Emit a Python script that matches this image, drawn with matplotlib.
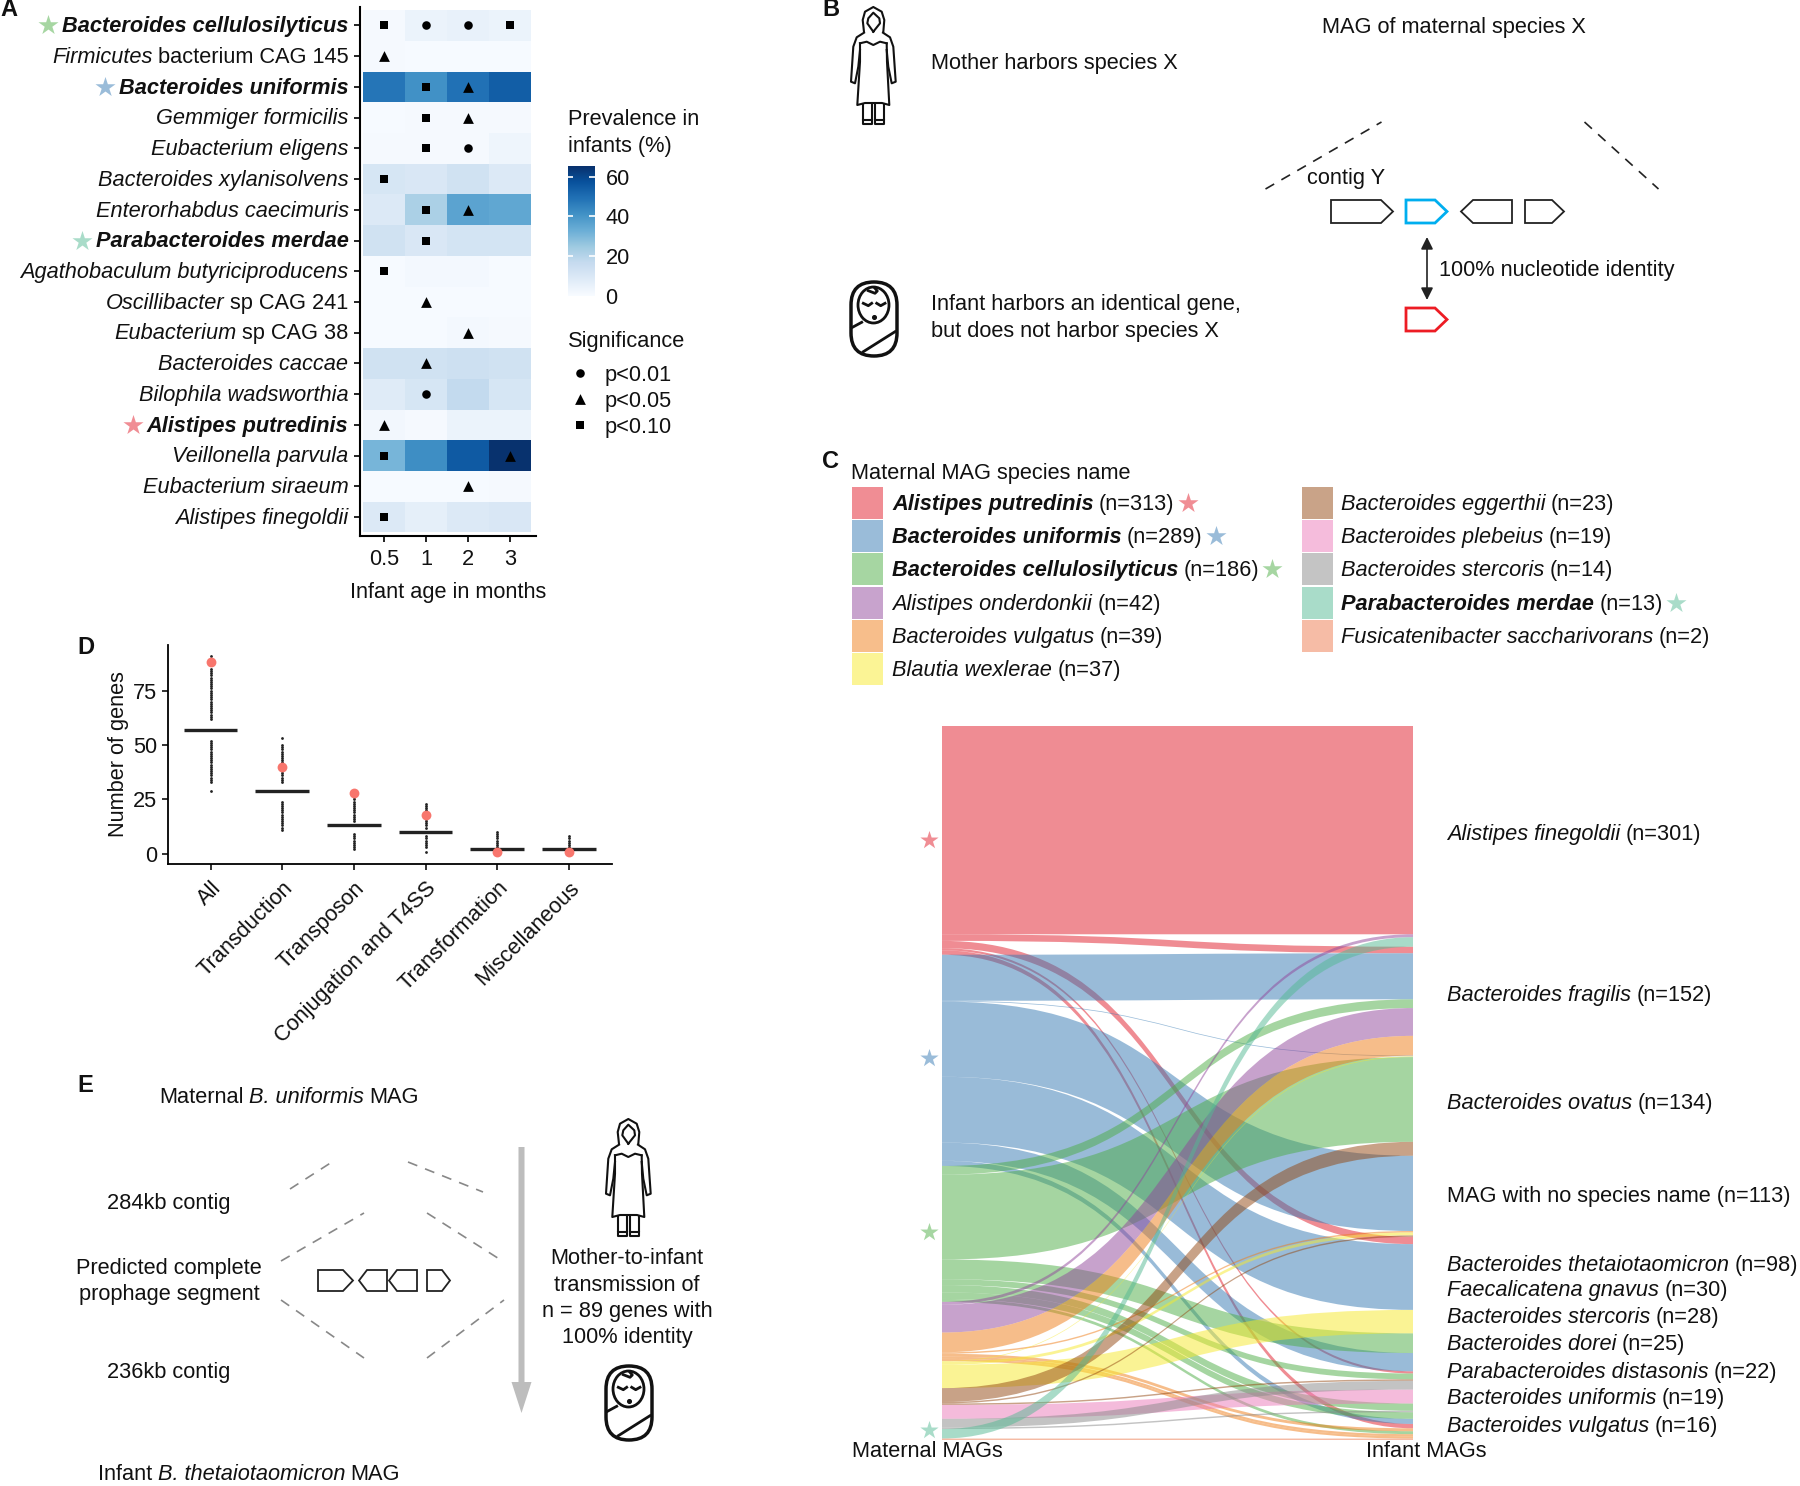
import matplotlib
matplotlib.use('Agg')
import matplotlib.pyplot as plt
from matplotlib.path import Path
from matplotlib.patches import PathPatch, Polygon, Rectangle, Ellipse, FancyBboxPatch

plt.rcParams['font.family'] = ['Liberation Sans', 'DejaVu Sans']
FS = 15.7
W, H = 1800, 1486

# panel A
species_a = ['Bacteroides cellulosilyticus', 'Firmicutes bacterium CAG 145', 'Bacteroides uniformis',
             'Gemmiger formicilis', 'Eubacterium eligens', 'Bacteroides xylanisolvens',
             'Enterorhabdus caecimuris', 'Parabacteroides merdae', 'Agathobaculum butyriciproducens',
             'Oscillibacter sp CAG 241', 'Eubacterium sp CAG 38', 'Bacteroides caccae',
             'Bilophila wadsworthia', 'Alistipes putredinis', 'Veillonella parvula',
             'Eubacterium siraeum', 'Alistipes finegoldii']
ages = ['0.5', '1', '2', '3']
prevalence = [[1, 4, 5, 4], [1, 0.5, 0.5, 0.5], [48, 41, 49, 54], [0.5, 1, 1, 1], [1, 1, 1, 3],
              [11, 10, 13, 9], [9, 22, 36, 35], [13, 10, 12, 12], [0.5, 1.5, 1.5, 0.5],
              [0.5, 0.5, 0.5, 0.5], [0.5, 0.5, 1.5, 1], [13, 13, 14, 13], [8, 11, 17, 11],
              [2, 1, 4, 4], [31, 42, 55, 65], [0.5, 0.5, 0.5, 1], [9, 6, 9, 10]]
signif = ['soos', '^...', '.s^.', '.s^.', '.so.', 's...', '.s^.', '.s..', 's...',
          '.^..', '..^.', '.^..', '.o..', '^...', 's..^', '..^.', 's...']
bold_a = {'Bacteroides cellulosilyticus': 'green', 'Bacteroides uniformis': 'blue',
          'Parabacteroides merdae': 'teal', 'Alistipes putredinis': 'red'}
mixed_a = {'Firmicutes bacterium CAG 145': ('Firmicutes', 'bacterium CAG 145'),
           'Oscillibacter sp CAG 241': ('Oscillibacter', 'sp CAG 241'),
           'Eubacterium sp CAG 38': ('Eubacterium', 'sp CAG 38')}

# panel C legend
c_col1 = [('Alistipes putredinis', 313, 'red', True), ('Bacteroides uniformis', 289, 'blue', True),
          ('Bacteroides cellulosilyticus', 186, 'green', True), ('Alistipes onderdonkii', 42, 'purple', False),
          ('Bacteroides vulgatus', 39, 'orange', False), ('Blautia wexlerae', 37, 'yellow', False)]
c_col2 = [('Bacteroides eggerthii', 23, 'brown', False), ('Bacteroides plebeius', 19, 'pink', False),
          ('Bacteroides stercoris', 14, 'grey', False), ('Parabacteroides merdae', 13, 'teal', True),
          ('Fusicatenibacter saccharivorans', 2, 'salmon', False)]
base_colors = {'red': '#E11B29', 'blue': '#3579B3', 'green': '#4DAD45', 'purple': '#91479B',
               'orange': '#EF7D17', 'yellow': '#F7E92B', 'brown': '#934711', 'pink': '#EB79B9',
               'grey': '#898989', 'teal': '#53B993', 'salmon': '#ED794D'}
light_colors = {'red': '#F08D94', 'blue': '#9ABCD9', 'green': '#A6D6A2', 'purple': '#C8A3CD',
                'orange': '#F7BE8B', 'yellow': '#FBF495', 'brown': '#C9A388', 'pink': '#F5BCDC',
                'grey': '#C4C4C4', 'teal': '#A9DCC9', 'salmon': '#F6BCA6'}

# alluvial flows, left stack order
flow_ids = ['r1', 'r2', 'r3', 'r4', 'r5', 'b1', 'b2', 'b3', 'b4', 'b5', 'b6',
            'g1', 'g2', 'g3', 'g4', 'g5', 'g6', 'g7', 'p1', 'p2', 'o1', 'o2', 'o3', 'o4', 'o5',
            'y1', 'y2', 'y3', 'br1', 'br2', 'br3', 'pk', 'gr1', 'gr2', 't1', 's1']
flow_n = [285, 9, 10, 3, 6, 63, 1, 103, 90, 25, 7,
          12, 116, 27, 8, 10, 9, 4, 4, 38, 27, 2, 4, 3, 3,
          1, 4, 32, 19, 2, 2, 19, 12, 2, 13, 2]
flow_species = ['red'] * 5 + ['blue'] * 6 + ['green'] * 7 + ['purple'] * 2 + ['orange'] * 5 + \
    ['yellow'] * 3 + ['brown'] * 3 + ['pink'] + ['grey'] * 2 + ['teal'] + ['salmon']
right_order = ['r1', 'p1', 't1', 'r2', 'b1', 'g1', 'p2', 'o1', 'b2', 'y1', 'g2', 'br1', 'b3', 'o2', 'y2', 'br2',
               'r3', 'b4', 'y3', 'g3', 'b5', 'r4', 'g4', 'br3', 'gr1', 'pk', 'g5', 'gr2', 'g6', 'b6', 'r5',
               'o3', 'g7', 'o4', 'o5', 's1']
infant_labels = [('Alistipes finegoldii', ' (n=301)', 833), ('Bacteroides fragilis', ' (n=152)', 994),
                 ('Bacteroides ovatus', ' (n=134)', 1102), ('', 'MAG with no species name (n=113)', 1195),
                 ('Bacteroides thetaiotaomicron', ' (n=98)', 1264), ('Faecalicatena gnavus', ' (n=30)', 1289),
                 ('Bacteroides stercoris', ' (n=28)', 1316), ('Bacteroides dorei', ' (n=25)', 1343),
                 ('Parabacteroides distasonis', ' (n=22)', 1371), ('Bacteroides uniformis', ' (n=19)', 1397),
                 ('Bacteroides vulgatus', ' (n=16)', 1425)]

# panel D
categories = ['All', 'Transduction', 'Transposon', 'Conjugation and T4SS', 'Transformation', 'Miscellaneous']
observed = [88, 40, 28, 18, 1, 1]
null_median = [57, 29, 13, 10, 2, 2]
null_values = [
    [29, 33, 34, 35, 36, 37, 38, 39, 40, 41, 42, 43, 44, 45, 46, 47, 48, 49, 50, 51, 52,
     62, 63, 64, 65, 66, 67, 68, 69, 70, 71, 72, 73, 74, 75, 76, 77, 78, 79, 80, 81, 82, 83, 84, 85, 91],
    [11, 12, 13, 14, 15, 16, 17, 18, 19, 20, 21, 22, 23, 24, 33, 34, 35, 36, 37, 38, 39, 41, 42, 43, 44, 45, 46,
     47, 48, 49, 50, 53],
    [2, 3, 4, 5, 6, 7, 8, 9, 15, 16, 17, 18, 19, 20, 21, 22, 23, 24, 25, 26],
    [1, 3, 4, 5, 6, 7, 8, 12, 13, 14, 15, 16, 17, 19, 20, 21, 22, 23],
    [3, 4, 5, 6, 7, 8, 9, 10],
    [3, 4, 5, 6, 7, 8],
]

fig = plt.figure(figsize=(W / 100, H / 100), dpi=100)
renderer = fig.canvas.get_renderer()


def px_axes(left, top, right, bottom, **kw):
    return fig.add_axes([left / W, 1 - bottom / H, (right - left) / W, (bottom - top) / H], **kw)


ov = px_axes(0, 0, W, H, zorder=5)
ov.set_xlim(0, W)
ov.set_ylim(H, 0)
ov.axis('off')
ov.patch.set_alpha(0)


def rich(x, y, parts, size=FS, ha='left'):
    # parts: (text, style, weight), y is the middle of the x-height line
    px = size * 100 / 72
    gap = 0.25 * px
    items = []
    for s, style, weight in parts:
        t = ov.text(0, y + 0.31 * px, s, fontsize=size, style=style, weight=weight, va='baseline', ha='left',
                    color='#111111')
        items.append((t, t.get_window_extent(renderer).width))
    total = sum(i[1] for i in items) + gap * (len(items) - 1)
    left = x
    if ha == 'right':
        left = x - total
    elif ha == 'center':
        left = x - total / 2
    cur = left
    for t, w in items:
        t.set_x(cur)
        cur += w + gap
    return left, left + total


def plain(x, y, s, ha='left', size=FS):
    return rich(x, y, [(s, 'normal', 'normal')], size=size, ha=ha)


def gene(x0, x1, y0, y1, right=True, color='#222222', lw=1.3, tip=12):
    ym = (y0 + y1) / 2
    if right:
        pts = [(x0, y0), (x1 - tip, y0), (x1, ym), (x1 - tip, y1), (x0, y1)]
    else:
        pts = [(x1, y0), (x0 + tip, y0), (x0, ym), (x0 + tip, y1), (x1, y1)]
    ov.add_patch(Polygon(pts, closed=True, fill=False, edgecolor=color, lw=lw, joinstyle='miter'))


def dash(x0, y0, x1, y1, color='#222222', lw=1.2):
    ov.plot([x0, x1], [y0, y1], color=color, lw=lw, dashes=(6, 5))


def mother(x, y):
    c = '#111111'
    lines = [
        [(13, 25), (11.7, 13), (14, 4.7), (22.3, 0), (30.7, 4.7), (33.3, 13), (32.3, 25)],
        [(22.3, 24.7), (16.3, 16.3), (17.3, 11.3), (22.3, 5.7), (28.3, 11.3), (29, 16.3), (22.3, 24.7)],
        [(13, 25.7), (5.7, 30.3), (2.3, 39.7), (0, 74.7), (4, 76.3), (7.3, 59.7), (9, 43)],
        [(32, 25.7), (39, 30.3), (42.3, 39.7), (44.7, 74.7), (40.7, 76.3), (37.3, 59.7), (35.7, 43)],
        [(9, 36.3), (15.7, 34.7), (22.3, 38), (29, 34.7), (35.7, 36.3)],
        [(9, 36.3), (9, 54.7), (6.3, 98), (14, 96), (31, 96), (38.3, 98), (36, 54.7), (35.7, 36.3)],
        [(12.3, 98), (12.3, 113), (21.3, 113), (21.3, 98)],
        [(24, 98), (24, 113), (33.3, 113), (33.3, 98)],
        [(12.3, 113), (12.3, 117), (21.3, 117), (21.3, 113)],
        [(24, 113), (24, 117), (33.3, 117), (33.3, 113)],
    ]
    for ln in lines:
        ov.plot([x + p[0] for p in ln], [y + p[1] for p in ln], color=c, lw=1.5, solid_joinstyle='round')


def baby(x, y):
    c = '#111111'
    ov.add_patch(FancyBboxPatch((x, y), 46, 74, boxstyle='round,pad=0,rounding_size=23', fill=False, edgecolor=c, lw=2.5))
    ov.add_patch(Ellipse((x + 22.5, y + 23), 31, 36, fill=False, edgecolor=c, lw=2))
    for ln in [[(0.7, 45.7), (10.7, 40.3)], [(12.3, 69.7), (44, 49.7)]]:
        ov.plot([x + p[0] for p in ln], [y + p[1] for p in ln], color=c, lw=2)
    for ln in [[(12.3, 21.3), (17.3, 23.7), (20.7, 21.3)], [(25.7, 21.3), (29.7, 23.7), (34, 21.3)],
               [(17.3, 8.7), (24, 11.3), (26.3, 9), (24, 6.3)]]:
        ov.plot([x + p[0] for p in ln], [y + p[1] for p in ln], color=c, lw=2)
    ov.scatter([x + 22.5], [y + 34.7], s=7, color=c)


def star(x, y, name, s=230):
    ov.scatter([x], [y], marker='*', s=s, color=light_colors[name], linewidths=0, zorder=3)


for lab, x, y in [('A', 0, 10), ('B', 822, 10), ('C', 822, 461), ('D', 77, 648), ('E', 77, 1086)]:
    ov.text(x, y, lab, fontsize=17, weight='bold', va='center', ha='left', color='#111111')

# --- A heatmap
axa = px_axes(360, 7, 535.5, 535.5, zorder=2)
mesh = axa.pcolormesh(range(5), range(18), prevalence, cmap='Blues', vmin=0, vmax=65.6, shading='flat',
                      edgecolors='none')
axa.set_xlim(0 - 0.07, 4.107)
axa.set_ylim(17.1, -0.1)
axa.set_xticks([i + 0.5 for i in range(4)])
axa.set_xticklabels(ages, fontsize=FS)
axa.set_yticks([i + 0.5 for i in range(17)])
axa.set_yticklabels([])
axa.tick_params(axis='x', length=4, width=1.3, pad=6, colors='#111111')
axa.tick_params(axis='y', length=4, width=1.3, colors='#111111')
axa.set_xlabel('Infant age in months', fontsize=FS, labelpad=8, color='#111111')
for sp in ['top', 'right']:
    axa.spines[sp].set_visible(False)
for sp in ['left', 'bottom']:
    axa.spines[sp].set_linewidth(1.5)

for i, row in enumerate(signif):
    for j, m in enumerate(row):
        if m != '.':
            axa.scatter([j + 0.5], [i + 0.5], marker=m, s=60 if m == '^' else 38, color='black', linewidths=0, zorder=3)

for i, name in enumerate(species_a):
    y = axa.transData.transform((0, i + 0.5))[1]
    y = H - y
    if name in bold_a:
        left, _ = rich(348.5, y, [(name, 'italic', 'bold')], ha='right')
        star(left - 14, y, bold_a[name])
    elif name in mixed_a:
        a, b = mixed_a[name]
        rich(348.5, y, [(a, 'italic', 'normal'), (b, 'normal', 'normal')], ha='right')
    else:
        rich(348.5, y, [(name, 'italic', 'normal')], ha='right')

plain(568, 118, 'Prevalence in')
plain(568, 145, 'infants (%)')
cax = px_axes(568, 165.5, 594.5, 295.5, zorder=2)
cb = fig.colorbar(mesh, cax=cax)
cb.outline.set_visible(False)
cb.set_ticks([0, 20, 40, 60])
cb.ax.tick_params(length=0, pad=8, labelsize=FS, colors='#111111')
cax.hlines([20, 40, 60], 0, 0.2, color='white', lw=1.2)
cax.hlines([20, 40, 60], 0.8, 1, color='white', lw=1.2)
plain(568, 340, 'Significance')
for lab, m, y in [('p<0.01', 'o', 374), ('p<0.05', '^', 400), ('p<0.10', 's', 426)]:
    ov.scatter([580], [y - 1], marker=m, s=60 if m == '^' else 38, color='black', linewidths=0)
    plain(605, y, lab)

# --- B schematic
mother(851, 7)
baby(851, 282)
plain(1322, 26, 'MAG of maternal species X')
plain(931, 62, 'Mother harbors species X')
plain(931, 303, 'Infant harbors an identical gene,')
plain(931, 330, 'but does not harbor species X')
plain(1307, 177, 'contig Y')
plain(1439, 269, '100% nucleotide identity')
dash(1265.5, 189, 1381.5, 122)
dash(1584.5, 122, 1658.5, 189)
gene(1331, 1393, 200, 223)
gene(1406, 1447, 200, 223, color='#00AEEF', lw=2)
gene(1461, 1512, 200, 223, right=False)
gene(1525, 1564, 200, 223)
gene(1406, 1447, 308, 331, color='#ED1C24', lw=2)
ov.annotate('', xy=(1427, 237), xytext=(1427, 300), arrowprops=dict(arrowstyle='<|-|>', color='#222222', lw=1.2,
                                                                     mutation_scale=18, shrinkA=0, shrinkB=0))

# --- C legend
plain(851, 472, 'Maternal MAG species name')
rows_y = [503, 536, 569, 603, 636, 669]
for col, (x_sq, x_tx) in zip([c_col1, c_col2], [(852, 892), (1302, 1341)]):
    for (name, n, colr, bold), y in zip(col, rows_y):
        ov.add_patch(Rectangle((x_sq, y - 16), 31, 32, facecolor=light_colors[colr], edgecolor='none'))
        _, right = rich(x_tx, y, [(name, 'italic', 'bold' if bold else 'normal'), (f'(n={n})', 'normal', 'normal')])
        if bold:
            star(right + 13, y, colr)

# --- alluvial
axs = px_axes(942, 726, 1413, 1440, zorder=1)
total = sum(flow_n)
axs.set_xlim(0, 1)
axs.set_ylim(total, 0)
axs.axis('off')
tops_left = {}
cum = 0
for fid, n in zip(flow_ids, flow_n):
    tops_left[fid] = cum
    cum += n
tops_right = {}
cum = 0
n_of = dict(zip(flow_ids, flow_n))
for fid in right_order:
    tops_right[fid] = cum
    cum += n_of[fid]
for fid, n, sp in zip(flow_ids, flow_n, flow_species):
    a0, b0 = tops_left[fid], tops_right[fid]
    a1, b1 = a0 + n, b0 + n
    verts = [(0, a0), (0.55, a0), (0.45, b0), (1, b0), (1, b1), (0.45, b1), (0.55, a1), (0, a1), (0, a0)]
    codes = [Path.MOVETO, Path.CURVE4, Path.CURVE4, Path.CURVE4, Path.LINETO, Path.CURVE4, Path.CURVE4, Path.CURVE4,
             Path.CLOSEPOLY]
    axs.add_patch(PathPatch(Path(verts, codes), facecolor=base_colors[sp], edgecolor='none', alpha=0.5, lw=0))

for x, y, c in [(929, 840, 'red'), (929, 1058, 'blue'), (929, 1232, 'green'), (929, 1430, 'teal')]:
    star(x, y, c, s=190)
for name, tail, y in infant_labels:
    if name:
        rich(1447, y, [(name, 'italic', 'normal'), (tail.strip(), 'normal', 'normal')])
    else:
        plain(1447, y, tail)
plain(852, 1450, 'Maternal MAGs')
plain(1366, 1450, 'Infant MAGs')

# --- D strip plot
axd = px_axes(167.5, 645, 612, 863.7, zorder=2)
for i, vals in enumerate(null_values):
    axd.scatter([i] * len(vals), vals, s=4, color='#222222', linewidths=0, zorder=2)
axd.hlines(null_median, [i - 0.375 for i in range(6)], [i + 0.375 for i in range(6)], color='#222222', lw=2.4, zorder=3)
axd.scatter(range(6), observed, s=50, color='#F8766D', linewidths=0, zorder=4)
axd.set_xlim(-0.6, 5.6)
axd.set_ylim(-4.6, 96)
axd.set_yticks([0, 25, 50, 75])
axd.set_xticks(range(6))
axd.set_xticklabels(categories, rotation=45, ha='right', rotation_mode='anchor', fontsize=FS)
axd.tick_params(axis='y', labelsize=FS, length=4, width=1.2, colors='#111111')
axd.tick_params(axis='x', length=4, width=1.2, pad=6, colors='#111111')
axd.set_ylabel('Number of genes', fontsize=FS, labelpad=3, color='#111111')
for sp in ['top', 'right']:
    axd.spines[sp].set_visible(False)
for sp in ['left', 'bottom']:
    axd.spines[sp].set_linewidth(1.3)

# --- E schematic
rich(159, 1096, [('Maternal', 'normal', 'normal'), ('B. uniformis', 'italic', 'normal'), ('MAG', 'normal', 'normal')])
rich(98, 1473, [('Infant', 'normal', 'normal'), ('B. thetaiotaomicron', 'italic', 'normal'), ('MAG', 'normal', 'normal')])
plain(169, 1202, '284kb contig', ha='center')
plain(169, 1267, 'Predicted complete', ha='center')
plain(169, 1293, 'prophage segment', ha='center')
plain(169, 1371, '236kb contig', ha='center')
grey_dash = '#888888'
dash(290, 1189, 332, 1162, color=grey_dash)
dash(408, 1162, 483, 1192, color=grey_dash)
dash(281, 1261, 364, 1213, color=grey_dash)
dash(427, 1213, 504, 1262, color=grey_dash)
dash(281, 1300, 364, 1358, color=grey_dash)
dash(427, 1358, 504, 1300, color=grey_dash)
gene(318, 353, 1270, 1291, tip=10)
gene(359, 387, 1270, 1291, right=False, tip=8)
gene(389, 417, 1270, 1291, right=False, tip=8)
gene(427, 450, 1270, 1291, tip=8)
ov.add_patch(Polygon([(518.5, 1147), (524.5, 1147), (524.5, 1382), (531.5, 1382), (521.5, 1413), (511.5, 1382), (518.5, 1382)],
                     closed=True, facecolor='#BDBDBD', edgecolor='none'))
mother(606, 1119)
baby(606, 1366)
for s, y in [('Mother-to-infant', 1257), ('transmission of', 1284), ('n = 89 genes with', 1310), ('100% identity', 1336)]:
    plain(627, y, s, ha='center')

fig.savefig('out.png', dpi=100)
